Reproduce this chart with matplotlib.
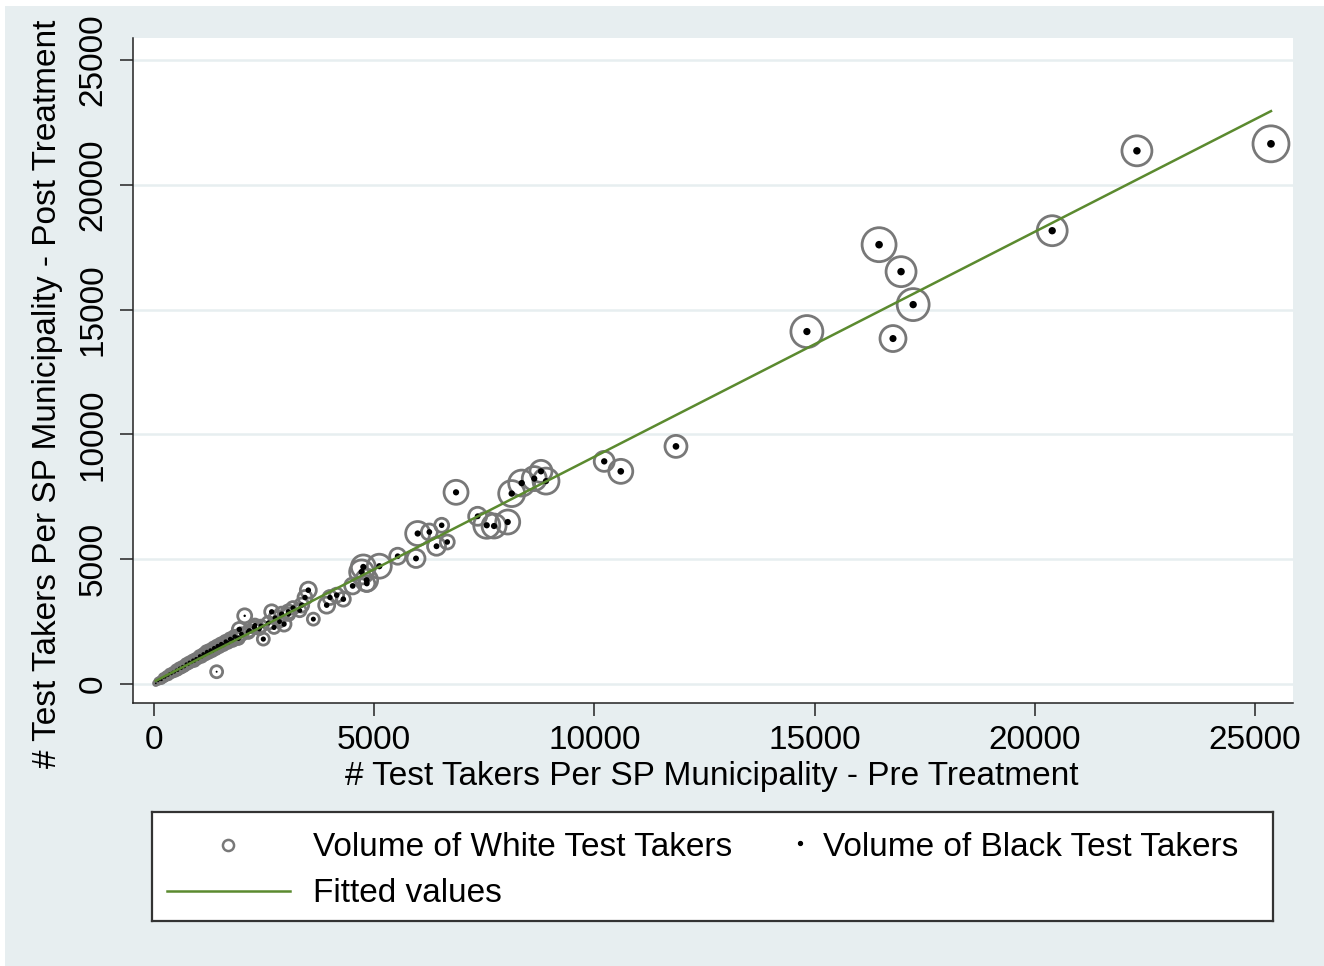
import numpy as np
import matplotlib
matplotlib.use("Agg")
import matplotlib.pyplot as plt
from matplotlib.patches import Rectangle

plt.rcParams['font.family'] = ['Liberation Sans', 'DejaVu Sans']

# ---- data ----
pre_treatment = [
    # largest municipalities
    25363, 22319, 20395, 16464, 16963, 17238, 14825, 16780, 11852, 10599, 10223,
    # 4000 - 9000
    6858, 8349, 8122, 8634, 8787, 8901, 8032, 7721, 7555, 7349, 5987, 6252, 6532,
    6415, 6659, 5949, 5533, 4753, 4715, 5116, 4828, 4832, 4511, 4148, 4299,
    # 1800 - 4000
    1938, 2165, 2279, 2429, 2482, 1915, 2725, 2672, 2899, 2952, 3051, 3354, 3429,
    3504, 3618, 3921, 3996, 2059, 1422,
    # small municipalities
    41, 92, 132, 173, 214, 255, 285, 326, 356, 397, 428, 468, 509, 540, 580, 621,
    652, 692, 733, 774, 804, 845, 886, 916, 957, 998, 1039, 1079, 1120, 1161, 1201,
    1242, 1283, 1324, 1364, 1405, 1446, 1487, 1527, 1578, 1629, 1680, 1731, 1782,
    1833, 1894, 1986, 2138, 2291, 2393, 2596, 2749, 2851, 3055, 3156, 3309,
]
post_treatment = [
    21640, 21360, 18160, 17600, 16520, 15200, 14120, 13840, 9520, 8520, 8920,
    7680, 8050, 7630, 8230, 8520, 8130, 6490, 6330, 6360, 6720, 6030, 6090, 6360,
    5520, 5690, 5030, 5120, 4690, 4490, 4720, 4160, 4027, 3930, 3560, 3400,
    2187, 2133, 2267, 2320, 1800, 1827, 2267, 2893, 2800, 2400, 2893, 3160, 3467,
    3760, 2600, 3160, 3467, 2733, 493,
    30, 110, 150, 160, 250, 260, 330, 340, 420, 400, 480, 470, 560, 540, 640, 620,
    700, 690, 800, 780, 870, 860, 950, 920, 1010, 1000, 1120, 1090, 1200, 1180, 1290,
    1250, 1350, 1320, 1440, 1400, 1520, 1480, 1600, 1560, 1700, 1650, 1800, 1760,
    1900, 1850, 2000, 2080, 2350, 2200, 2450, 2650, 2500, 2800, 3050, 2950,
]
white_volume = [
    16200, 11250, 11250, 14450, 11250, 12800, 12800, 8450, 6050, 7200, 5000,
    7200, 8450, 8450, 7200, 6050, 8450, 7200, 7200, 8450, 4050, 7200, 3200, 2450,
    4050, 2450, 4050, 3200, 7200, 7200, 7200, 6050, 3200, 3200, 2450, 2450,
    2450, 1800, 1800, 1800, 1800, 1800, 1800, 2450, 2450, 2450, 2450, 2450, 2450,
    3200, 1800, 3200, 2450, 2450, 1800,
    250, 500, 500, 600, 900, 600, 900, 900, 1000, 700, 1000, 900, 1400, 1000, 1400, 1000,
    1400, 1000, 1500, 1000, 1500, 1100, 1500, 1400, 1500, 1100, 1600, 1500, 1600, 1500, 2000,
    1500, 2000, 1500, 2000, 1500, 2000, 1500, 2000, 1500, 2000, 1500, 2000, 2000,
    2000, 2000, 2000, 2000, 2000, 1500, 2000, 2000, 1500, 2000, 2000, 2000,
]
black_volume = [
    3100, 2900, 2800, 3000, 2900, 2800, 2700, 2600, 2300, 2300, 2100,
    2000, 2100, 2100, 2000, 2000, 2000, 2000, 2000, 2000, 1800, 2000, 1700, 1600,
    1800, 1600, 1800, 1700, 2000, 2000, 2000, 1900, 1700, 1700, 1600, 1600,
    1500, 1400, 1400, 1400, 1400, 1400, 1400, 1500, 1500, 1500, 1500, 1500, 1500,
    1600, 1300, 1600, 1500, 300, 200,
    150, 200, 200, 250, 300, 250, 350, 300, 400, 300, 400, 350, 500, 400, 500, 400,
    600, 450, 600, 500, 650, 500, 700, 600, 700, 550, 750, 650, 800, 700, 850,
    700, 900, 750, 950, 800, 1000, 850, 1000, 900, 1050, 950, 1100, 1000,
    1100, 1050, 1150, 1200, 1200, 1100, 1250, 1300, 1200, 1300, 1350, 1300,
]

x_ticks = [0, 5000, 10000, 15000, 20000, 25000]
y_ticks = [0, 5000, 10000, 15000, 20000, 25000]
x_title = "# Test Takers Per SP Municipality - Pre Treatment"
y_title = "# Test Takers Per SP Municipality - Post Treatment"
legend_labels = ["Volume of White Test Takers", "Volume of Black Test Takers", "Fitted values"]

# ---- styling ----
W, H = 1324, 966
BG = '#e7eef0'
GRID = '#e7eef0'
CIRCLE = '#787878'
FIT = '#5b8a2f'
FS = 24

pre = np.array(pre_treatment, float)
post = np.array(post_treatment, float)
wv = np.array(white_volume, float)
bv = np.array(black_volume, float)

fig = plt.figure(figsize=(W / 100, H / 100), dpi=100, facecolor='white')
fig.patches.append(Rectangle((5 / W, 0), 1 - 5 / W, 1 - 6 / H, transform=fig.transFigure,
                             facecolor=BG, edgecolor='none', zorder=-10))

def px_box(x0, y0, x1, y1):
    return [x0 / W, 1 - y1 / H, (x1 - x0) / W, (y1 - y0) / H]

ax = fig.add_axes(px_box(133, 38, 1293, 703))
ax.set_facecolor('white')
ax.set_xlim(-477, 25863)
ax.set_ylim(-760, 25880)

for yt in y_ticks:
    ax.axhline(yt, color=GRID, lw=1.8, zorder=0)

ax.scatter(pre, post, s=wv * 0.0414, facecolors='none', edgecolors=CIRCLE,
           linewidths=2.0, zorder=2)
ax.scatter(pre, post, s=bv * 0.0100, color='black', linewidths=0, zorder=3)

b, a = np.polyfit(pre, post, 1)
xf = np.array([pre.min(), pre.max()])
ax.plot(xf, a + b * xf, color=FIT, lw=1.8, zorder=4)

for sp in ['top', 'right']:
    ax.spines[sp].set_visible(False)
for sp in ['left', 'bottom']:
    ax.spines[sp].set_linewidth(1.1)
    ax.spines[sp].set_color('#222222')

ax.set_xticks(x_ticks)
ax.set_yticks(y_ticks)
ax.set_xticklabels([str(t) for t in x_ticks])
ax.set_yticklabels([str(t) for t in y_ticks], rotation=90, va='center')
ax.tick_params(axis='both', length=9.5, width=1.1, color='#222222', labelsize=FS)
ax.tick_params(axis='x', pad=6)
ax.tick_params(axis='y', pad=8)

fig.text(712 / W, 1 - 777 / H, x_title, ha='center', va='center', fontsize=FS)
fig.text(48 / W, 1 - 394 / H, y_title, ha='center', va='center', rotation=90, fontsize=FS)

# ---- legend (manual box) ----
lx0, ly0, lx1, ly1 = 152, 812, 1273, 921
lax = fig.add_axes(px_box(lx0, ly0, lx1, ly1))
lax.set_xlim(0, lx1 - lx0)
lax.set_ylim(ly1 - ly0, 0)
lax.set_xticks([])
lax.set_yticks([])
lax.set_facecolor('white')
for sp in lax.spines.values():
    sp.set_linewidth(1.6)
    sp.set_color('#333333')

lax.plot([76], [33], marker='o', markersize=8, markerfacecolor='none',
         markeredgecolor=CIRCLE, markeredgewidth=1.8, linestyle='none')
lax.text(161, 35, legend_labels[0], ha='left', va='center', fontsize=FS)
lax.plot([648], [31], marker='o', markersize=2.8, color='black', linestyle='none')
lax.text(671, 35, legend_labels[1], ha='left', va='center', fontsize=FS)
lax.plot([15, 138], [79, 79], color=FIT, lw=1.8)
lax.text(161, 81, legend_labels[2], ha='left', va='center', fontsize=FS)

fig.savefig('out.png', dpi=100, facecolor=fig.get_facecolor())
